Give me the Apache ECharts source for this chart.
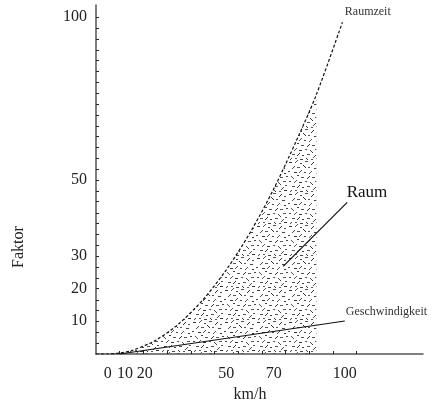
<!DOCTYPE html>
<html>
<head>
<meta charset="utf-8">
<script src="https://cdn.jsdelivr.net/npm/echarts@6/dist/echarts.min.js"></script>
<style>
  html, body { margin: 0; padding: 0; background: #fff; }
  #chart { width: 440px; height: 410px; }
</style>
</head>
<body>
<div id="chart"></div>
<script>
// Speed (km/h) axis
const speedLabels = [0, 10, 20, 50, 70, 100];
const speedTicks = [5, 15, 25, 35, 45, 55, 65, 75, 85, 95, 105];

// Factor axis
const factorLabels = [10, 20, 30, 50, 100];
const factorTicks = [3.2, 6.5, 9.7, 12.9, 16.1, 19.4, 22.6, 25.8, 29.0, 32.3, 35.5, 38.7,
  41.9, 45.2, 48.4, 51.6, 54.8, 58.1, 61.3, 64.5, 67.7, 71.0, 74.2, 77.4, 80.6, 83.9,
  87.1, 90.3, 93.5, 96.8, 100];

// Space-time factor (dashed curve)
const raumzeit = [[-5, 0], [0, 0], [5, 0.3], [10, 1], [20, 4], [30, 9], [40, 16], [50, 25],
  [60, 36], [70, 49], [80, 64], [88, 77], [99, 98.5]];
// Space: the stippled region under the curve, up to 88 km/h
const raumEnd = 88;
const raum = raumzeit.filter(p => p[0] >= 0 && p[0] <= raumEnd);
// Speed factor (straight line)
const geschwindigkeit = [[5, 0], [100, 9.8]];
// Leader line from the "Raum" caption into the region
const raumPointer = [[74, 26], [101, 45]];

const FONT = '"Liberation Serif", "DejaVu Serif", serif';

// Stipple texture: short grey dashes (flat 'h2'/'h3', rising 'd', falling 'b') in a 32x32 tile
const dashes = [
  [1,2,'h3','#333'],[7,0,'d','#555'],[12,3,'h2','#444'],[17,1,'h3','#555'],[23,2,'d','#333'],[28,4,'h2','#555'],
  [4,6,'d','#444'],[9,7,'h3','#555'],[15,5,'b','#333'],[20,7,'h2','#555'],[26,8,'h3','#444'],
  [0,11,'h2','#555'],[6,12,'h3','#333'],[11,10,'d','#555'],[16,12,'h2','#444'],[21,11,'d','#555'],[28,13,'h2','#333'],
  [3,16,'b','#555'],[9,15,'h2','#444'],[13,17,'h3','#555'],[19,16,'d','#333'],[24,17,'h3','#555'],[30,16,'h2','#444'],
  [1,21,'h2','#444'],[6,20,'d','#555'],[11,22,'h3','#333'],[17,21,'h2','#555'],[22,22,'b','#444'],[27,21,'h3','#555'],
  [4,26,'h3','#555'],[9,25,'d','#333'],[14,27,'h2','#444'],[19,26,'h3','#555'],[25,27,'d','#444'],[29,25,'h2','#555'],
  [1,30,'d','#444'],[7,30,'h2','#555'],[12,31,'h3','#444'],[18,30,'b','#333'],[23,31,'h2','#555'],[28,30,'h3','#333']
];
const tile = document.createElement('canvas');
tile.width = 32; tile.height = 32;
const tc = tile.getContext('2d');
dashes.forEach(([x, y, kind, c]) => {
  tc.fillStyle = c;
  if (kind === 'h2') tc.fillRect(x, y, 2, 1);
  else if (kind === 'h3') tc.fillRect(x, y, 3, 1);
  else if (kind === 'd') { tc.fillRect(x, y + 2, 1, 1); tc.fillRect(x + 1, y + 1, 1, 1); tc.fillRect(x + 2, y, 1, 1); }
  else { tc.fillRect(x, y, 1, 1); tc.fillRect(x + 1, y + 1, 1, 1); tc.fillRect(x + 2, y + 2, 1, 1); }
});

const chart = echarts.init(document.getElementById('chart'));

const labelStyle = { fontFamily: FONT, fontSize: 16, color: '#222' };

chart.setOption({
  animation: false,
  backgroundColor: '#fff',
  grid: { left: 96, right: 17, top: 5, bottom: 56, containLabel: false, outerBoundsMode: 'none' },
  xAxis: {
    type: 'value', min: -5, max: 133,
    axisLine: { show: true, onZero: false, lineStyle: { color: '#555', width: 1.5 } },
    axisTick: { show: true, inside: true, length: 3, customValues: speedTicks,
      lineStyle: { color: '#222', width: 1 } },
    axisLabel: Object.assign({
      customValues: speedLabels, margin: 12,
      formatter: v => (v === 10 || v === 20) ? '{s' + v + '|' + v + '}' : String(v),
      rich: {
        s10: Object.assign({ padding: [0, 13, 0, 0] }, labelStyle),
        s20: Object.assign({ padding: [0, 21, 0, 0] }, labelStyle)
      }
    }, labelStyle),
    splitLine: { show: false }
  },
  yAxis: {
    type: 'value', min: 0, max: 103.6,
    axisLine: { show: true, onZero: false, lineStyle: { color: '#555', width: 1.5 } },
    axisTick: { show: true, inside: true, length: 3, customValues: factorTicks,
      lineStyle: { color: '#222', width: 1 } },
    axisLabel: Object.assign({
      customValues: factorLabels, margin: 9,
      formatter: v => (v === 20 || v === 30 || v === 50) ? '{f' + v + '|' + v + '}' : String(v),
      rich: {
        f20: Object.assign({ padding: [5, 0, 0, 0] }, labelStyle),
        f30: Object.assign({ padding: [6, 0, 0, 0] }, labelStyle),
        f50: Object.assign({ padding: [0, 0, 11, 0] }, labelStyle)
      }
    }, labelStyle),
    splitLine: { show: false }
  },
  series: [
    {
      name: 'Raum', type: 'line', data: raum, smooth: 0.3,
      symbol: 'none', lineStyle: { width: 0 },
      areaStyle: { color: { image: tile, repeat: 'repeat' }, opacity: 1 },
      z: 1
    },
    {
      name: 'Raumzeit', type: 'line', data: raumzeit, smooth: 0.3,
      symbol: 'none', lineStyle: { color: '#111', width: 1.2, type: [3, 2] },
      z: 3
    },
    {
      name: 'Geschwindigkeit', type: 'line', data: geschwindigkeit,
      symbol: 'none', lineStyle: { color: '#111', width: 1.2 }, z: 4
    },
    {
      name: 'Raum pointer', type: 'line', data: raumPointer,
      symbol: 'none', lineStyle: { color: '#111', width: 1.2 }, z: 4
    }
  ]
});

// Captions anchored to data positions
const px = (x, y) => chart.convertToPixel({ gridIndex: 0 }, [x, y]);
const pRaumzeit = px(100, 101.5);
const pGesch = px(100.4, 12.6);
const pRaum = px(100.8, 47.8);

chart.setOption({
  graphic: [
    { type: 'text', x: pRaumzeit[0], y: pRaumzeit[1],
      style: { text: 'Raumzeit', font: '12px ' + FONT, fill: '#333', align: 'left', verticalAlign: 'middle' } },
    { type: 'text', x: pGesch[0], y: pGesch[1],
      style: { text: 'Geschwindigkeit', font: '12px ' + FONT, fill: '#333', align: 'left', verticalAlign: 'middle' } },
    { type: 'text', x: pRaum[0], y: pRaum[1],
      style: { text: 'Raum', font: '17px ' + FONT, fill: '#111', align: 'left', verticalAlign: 'middle' } },
    { type: 'text', x: 19, y: 247, rotation: Math.PI / 2,
      style: { text: 'Faktor', font: '16px ' + FONT, fill: '#222', align: 'center', verticalAlign: 'middle' } },
    { type: 'text', x: 250, y: 395,
      style: { text: 'km/h', font: '16px ' + FONT, fill: '#222', align: 'center', verticalAlign: 'middle' } }
  ]
});
</script>
</body>
</html>
